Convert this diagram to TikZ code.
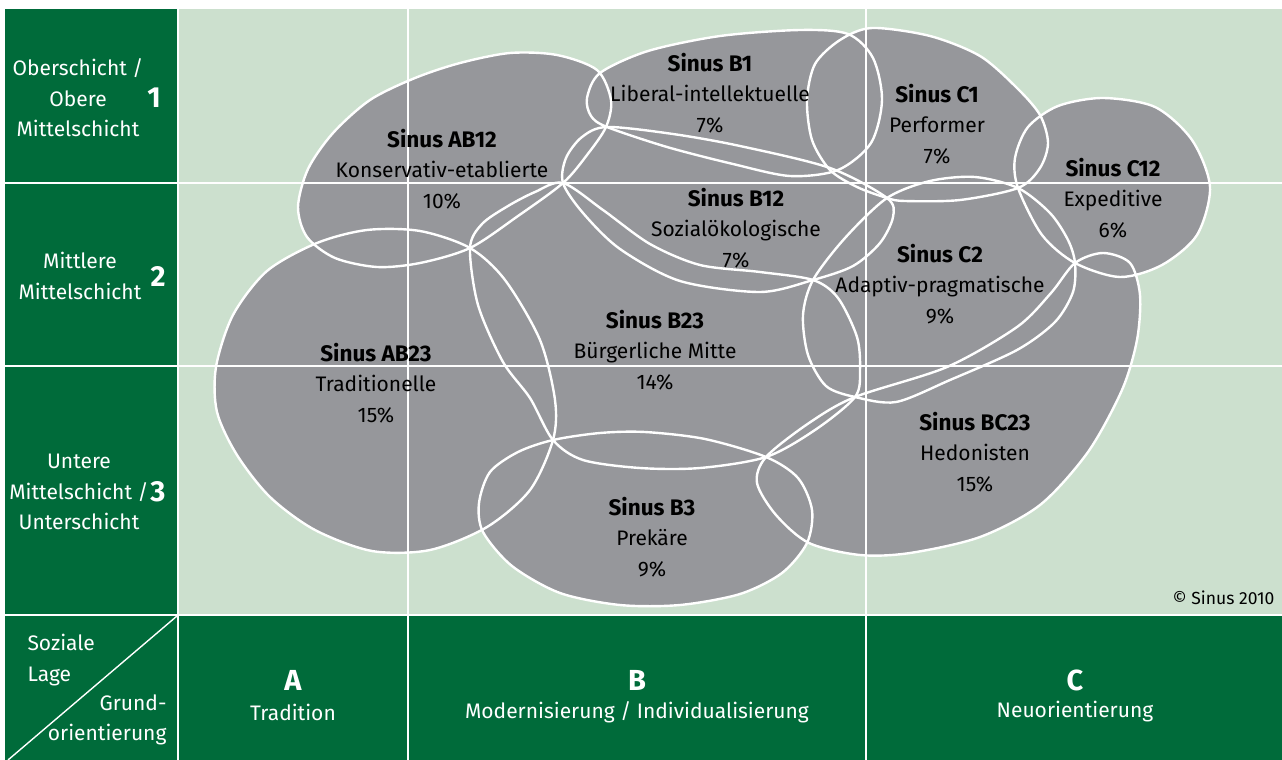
\documentclass[tikz,border=0pt]{standalone}
\usepackage{fontspec}
\setmainfont{Fira Sans}
\definecolor{sinusdark}{HTML}{006B3A}
\definecolor{sinuslight}{HTML}{CCE0CE}
\definecolor{sinusgray}{HTML}{96979B}
\newcommand\titel[1]{{\fontsize{22.5}{30.5}\selectfont\bfseries #1}}
\newcommand\sinusABtop{plot[smooth cycle] coordinates {(298,207) (308,169) (333,133) (370,100) (415,78) (460,63) (510,53) (557,55) (597,70) (611,100) (606,127) (587,155) (563,183) (518,216) (470,248) (420,263) (377,267) (335,258) (307,237)}}
\newcommand\sinusABlow{plot[smooth cycle] coordinates {(470,248) (420,231) (367,230) (317,243) (267,271) (233,315) (216,367) (217,412) (237,455) (270,497) (315,530) (372,551) (430,550) (487,527) (530,490) (553,440) (555,400) (540,340) (505,280)}}
\newcommand\sinusBtop{plot[smooth cycle] coordinates {(587,98) (600,73) (648,51) (720,36) (800,30) (848,34) (873,58) (882,100) (871,143) (838,170) (790,176) (733,164) (667,147) (607,127) (591,116)}}
\newcommand\sinusBmid{plot[smooth cycle] coordinates {(563,183) (566,158) (582,137) (607,127) (673,134) (740,146) (830,168) (887,198) (893,217) (880,243) (853,266) (813,280) (760,292) (680,281) (620,249) (583,213)}}
\newcommand\sinusBlow{plot[smooth cycle] coordinates {(563,183) (603,210) (650,244) (700,265) (760,272) (813,280) (838,298) (857,337) (860,370) (855,397) (815,430) (766,457) (700,468) (640,468) (583,460) (553,440) (530,398) (503,362) (478,305) (470,248) (482,224) (508,206) (535,192)}}
\newcommand\sinusBbot{plot[smooth cycle] coordinates {(553,440) (600,433) (645,432) (705,439) (766,457) (798,478) (812,510) (807,543) (782,573) (740,594) (680,605) (620,605) (560,593) (512,566) (483,532) (479,503) (490,472) (518,452)}}
\newcommand\sinusCtop{plot[smooth cycle] coordinates {(807,100) (815,64) (840,40) (872,28) (930,36) (980,56) (1017,88) (1040,115) (1048,143) (1040,168) (1018,188) (960,200) (905,201) (887,198) (857,187) (830,170) (812,140)}}
\newcommand\sinusCmid{plot[smooth cycle] coordinates {(1018,188) (1015,158) (1028,127) (1058,106) (1103,98) (1155,107) (1192,140) (1210,187) (1197,235) (1162,265) (1120,277) (1075,263) (1042,235)}}
\newcommand\sinusClow{plot[smooth cycle] coordinates {(887,198) (930,181) (975,177) (1018,188) (1050,213) (1068,240) (1075,263) (1073,292) (1055,322) (1017,350) (950,380) (896,402) (855,397) (826,386) (808,355) (803,315) (813,280) (845,238)}}
\newcommand\sinusBClow{plot[smooth cycle] coordinates {(766,457) (809,423) (855,397) (947,367) (1017,327) (1051,293) (1075,263) (1103,253) (1130,263) (1140,295) (1137,340) (1122,390) (1088,452) (1040,505) (980,537) (910,553) (860,555) (809,543) (776,515) (757,483)}}

\begin{document}
\begin{tikzpicture}[x=1pt, y=-1pt, font={\fontsize{21}{30.5}\selectfont},
	blob/.style={fill=sinusgray},
	rim/.style={draw=white, line width=2.4pt},
	gridline/.style={draw=white, line width=1.4pt},
	milieu/.style={align=center, text=black},
	side/.style={align=center, text=white},
	rank/.style={text=white, font={\fontsize{29}{30}\selectfont\bfseries}}]
	\useasboundingbox (0,0) rectangle (1282,760);
	\fill[white] (0,0) rectangle (1282,760);
	\fill[sinuslight] (178,9) rectangle (1282,615);
	\fill[sinusdark] (5,9) rectangle (178,615);
	\fill[sinusdark] (5,615) rectangle (1282,760);
	\foreach \m in {\sinusABtop,\sinusABlow,\sinusBtop,\sinusBmid,\sinusBlow,\sinusBbot,\sinusCtop,\sinusCmid,\sinusClow,\sinusBClow}
		\fill[blob] \m;
	\foreach \m in {\sinusABtop,\sinusABlow,\sinusBtop,\sinusBmid,\sinusBlow,\sinusBbot,\sinusCtop,\sinusCmid,\sinusClow,\sinusBClow}
		\draw[rim] \m;
	\foreach \x in {178,408,866}
		\draw[gridline] (\x,9) -- (\x,760);
	\foreach \y in {183,366,615}
		\draw[gridline] (5,\y) -- (1282,\y);
	\draw[gridline] (8,760) -- (177,616);
	\node[milieu] (b1) at (710,93) {\titel{Sinus B1}\\Liberal-intellektuelle\\7\%};
	\node[milieu] (ab12) at (442,169) {\titel{Sinus AB12}\\Konservativ-etablierte\\10\%};
	\node[milieu] (c1) at (937,124) {\titel{Sinus C1}\\Performer\\7\%};
	\node[milieu] (c12) at (1113,198) {\titel{Sinus C12}\\Expeditive\\6\%};
	\node[milieu] (b12) at (736,228) {\titel{Sinus B12}\\Sozialökologische\\7\%};
	\node[milieu] (c2) at (940,284) {\titel{Sinus C2}\\Adaptiv-pragmatische\\9\%};
	\node[milieu] (b23) at (655,350) {\titel{Sinus B23}\\Bürgerliche Mitte\\14\%};
	\node[milieu] (ab23) at (376,383) {\titel{Sinus AB23}\\Traditionelle\\15\%};
	\node[milieu] (bc23) at (975,452) {\titel{Sinus BC23}\\Hedonisten\\15\%};
	\node[milieu] (b3) at (652,537) {\titel{Sinus B3}\\Prekäre\\9\%};
	\node[side] (oben) at (78,98) {Oberschicht /\\Obere\\Mittelschicht};
	\node[rank] (r1) at (154,98) {1};
	\node[side] (mitte) at (80,276) {Mittlere\\Mittelschicht};
	\node[rank] (r2) at (158,276) {2};
	\node[side] (unten) at (79,492) {Untere\\Mittelschicht /\\Unterschicht};
	\node[rank] (r3) at (158,492) {3};
	\node[side, align=left, anchor=west] (lage) at (24,660) {Soziale\\Lage};
	\node[side, align=right, anchor=east] (orient) at (170,720) {Grund-\\orientierung};
	\node[rank] (ra) at (293,680) {A};
	\node[side] (tradition) at (293,712) {Tradition};
	\node[rank] (rb) at (637,680) {B};
	\node[side] (modern) at (637,712) {Modernisierung / Individualisierung};
	\node[rank] (rc) at (1075,680) {C};
	\node[side] (neu) at (1075,712) {Neuorientierung};
	\node[anchor=east, font={\fontsize{17.5}{20}\selectfont}] (copy) at (1278,598) {© Sinus 2010};
\end{tikzpicture}
\end{document}
